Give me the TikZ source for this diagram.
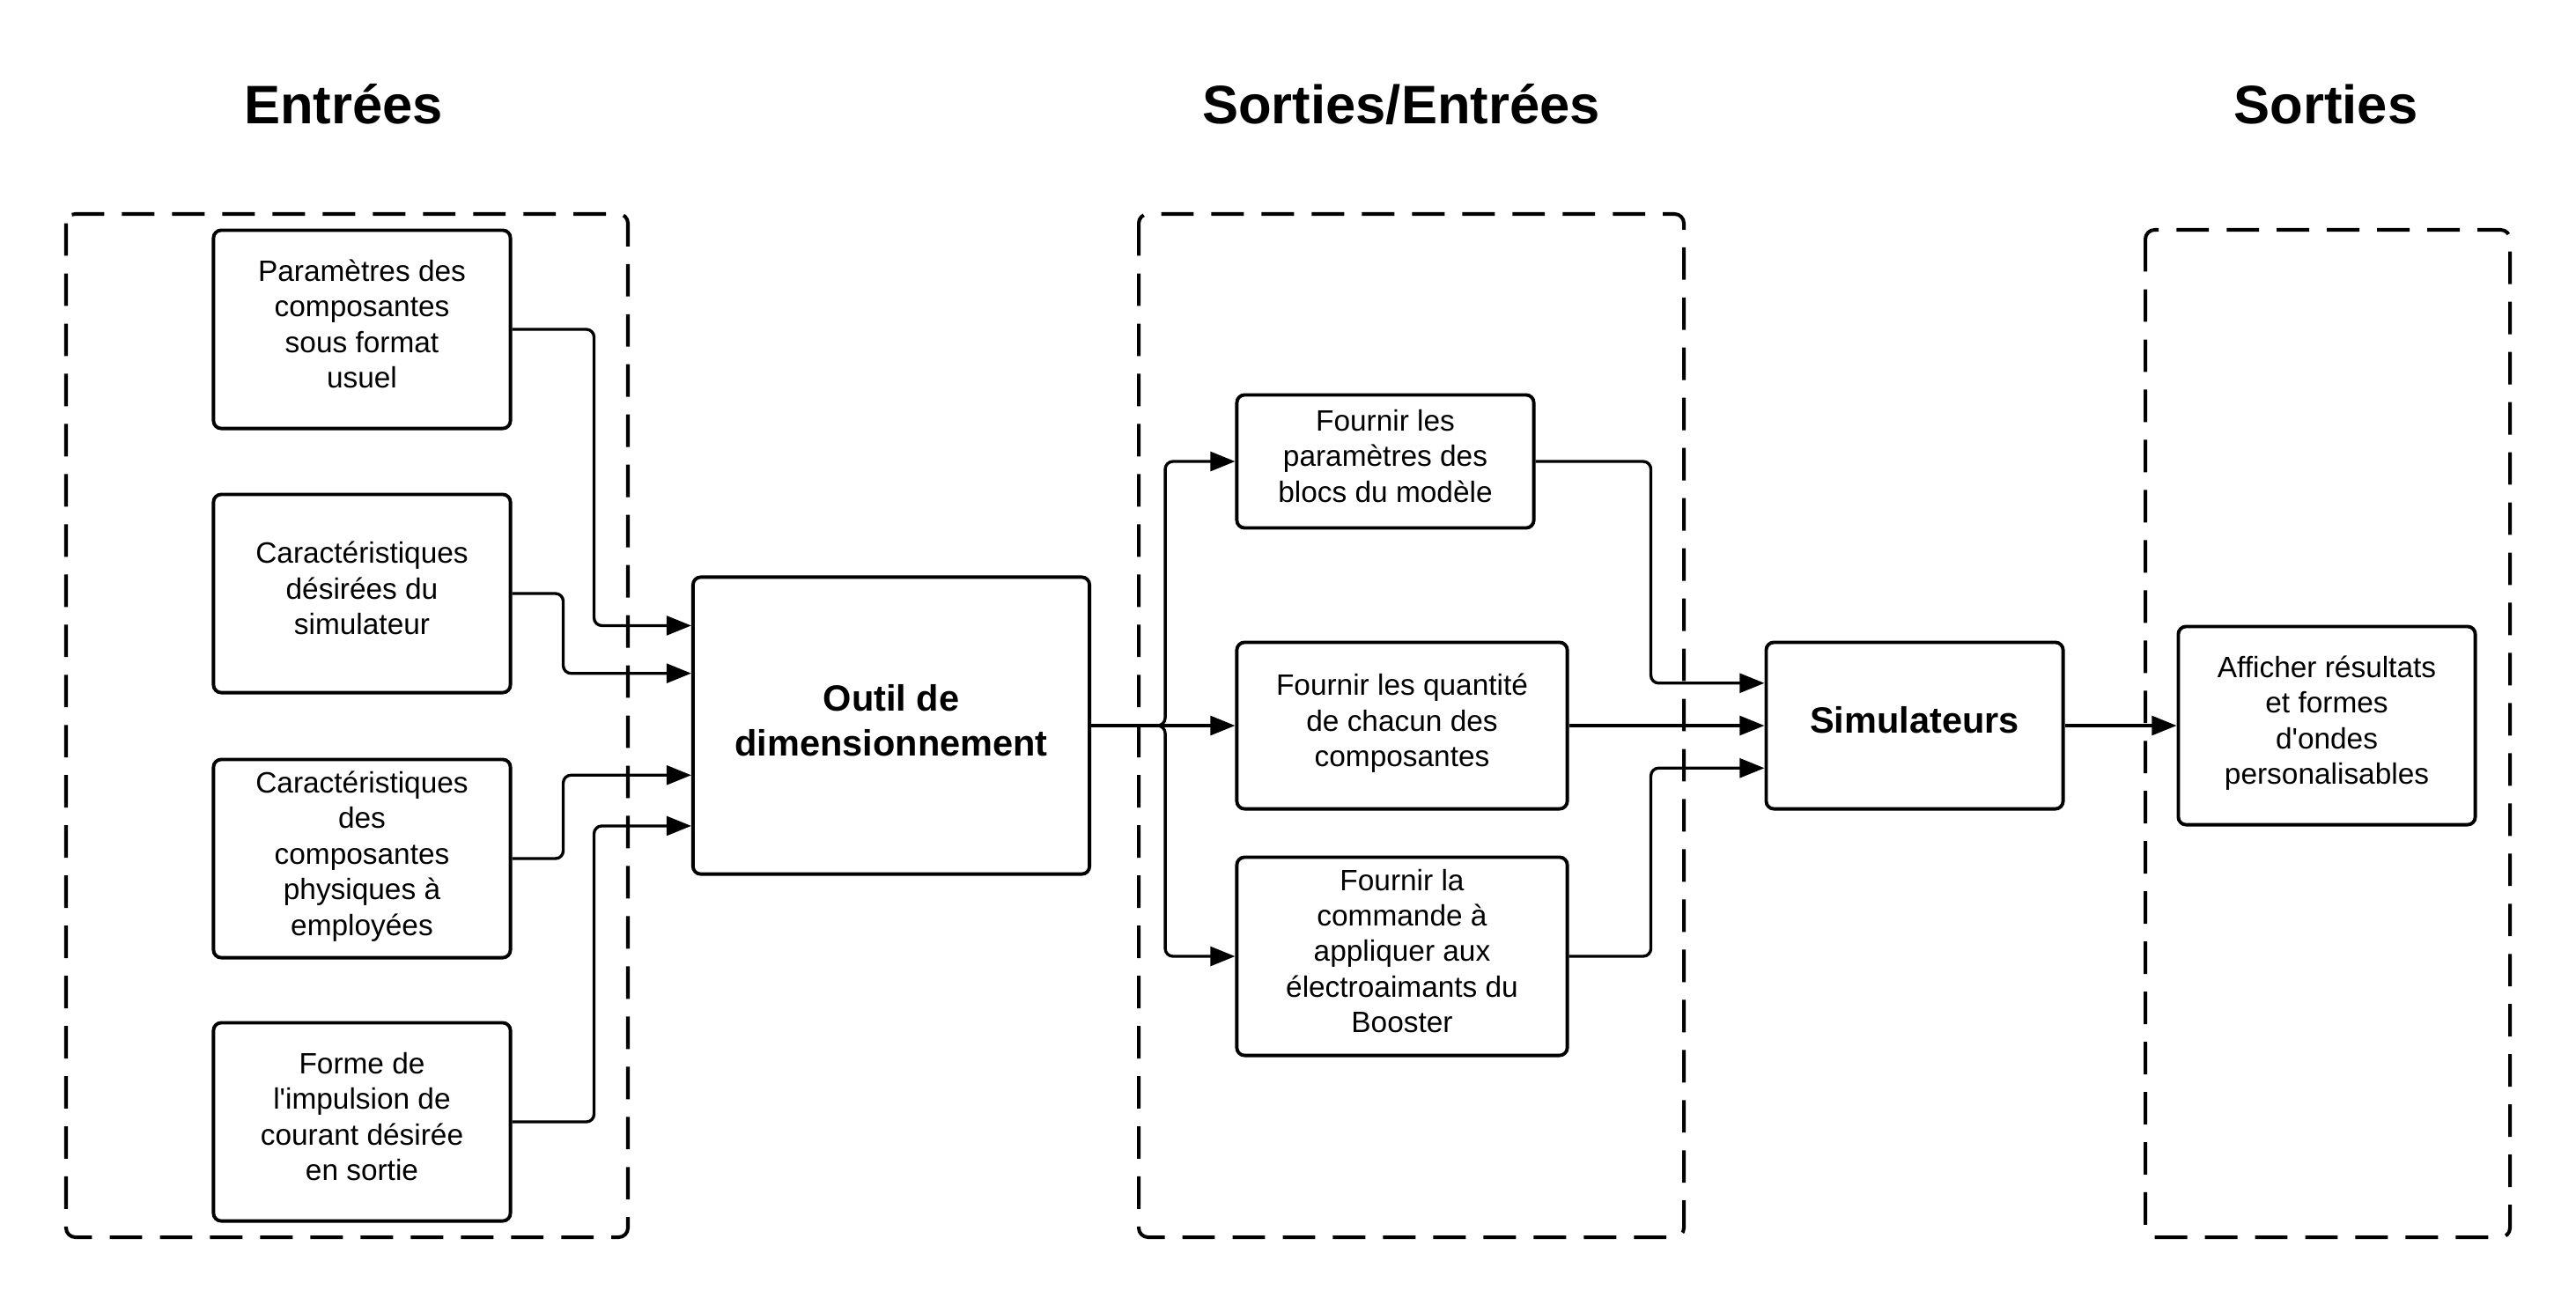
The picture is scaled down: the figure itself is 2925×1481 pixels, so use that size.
\documentclass[tikz,border=0pt]{standalone}
\usepackage{fontspec}
\setmainfont{Liberation Sans}
\usepackage{tikz}
\usetikzlibrary{arrows.meta, calc}
\tikzstyle{block}=[rectangle, draw, line width=1.1pt, rounded corners=2.5pt, align=center, inner sep=2pt, minimum width=3.37cm, minimum height=2.25cm, font=\fontsize{9.5}{11.5}\selectfont, execute at begin node={\rule{0pt}{7.3pt}}, execute at end node={\rule[-3.5pt]{0pt}{3.5pt}}]
\tikzstyle{mainblock}=[block, font=\fontsize{11.8}{14.3}\selectfont\bfseries]
\tikzstyle{heading}=[anchor=base, font=\fontsize{17.5}{21}\selectfont\bfseries]
\tikzstyle{group}=[draw, line width=1.15pt, dash pattern=on 10.5pt off 5.7pt, rounded corners=3pt]
\tikzstyle{link}=[draw, line width=0.95pt, rounded corners=2.5pt, -{Triangle[length=8pt, width=6.2pt]}]
\newcommand{\block}{\node[block]}
\newcommand{\mainblock}{\node[mainblock]}

\begin{document}
\begin{tikzpicture}[x=0.01cm, y=-0.01cm]
\useasboundingbox (0,0) rectangle (2925,1481);

\node[heading] (tin) at (390,140) {Entrées};
\node[heading] (tmid) at (1591,140) {Sorties/Entrées};
\node[heading] (tout) at (2641,140) {Sorties};

\draw[group] (75,243) rectangle (713,1405);
\draw[group] (1293,243) rectangle (1912,1405);
\draw[group] (2436,261) rectangle (2850,1405);

    \block (p1) at (411,374) {Paramètres des\\composantes\\sous format\\usuel};
    \block (p2) at (411,674) {Caractéristiques\\désirées du\\simulateur};
    \block (p3) at (411,975) {Caractéristiques\\des\\composantes\\physiques à\\employées};
    \block (p4) at (411,1274) {Forme de\\l\textquotesingle impulsion de\\courant désirée\\en sortie};

    \mainblock[minimum width=4.5cm, minimum height=3.37cm] (outil) at (1012,824) {Outil de\\dimensionnement};

    \block[minimum height=1.51cm] (f1) at (1573,524) {Fournir les\\paramètres des\\blocs du modèle};
    \block[minimum width=3.75cm, minimum height=1.89cm] (f2) at (1592,824) {Fournir les quantité\\de chacun des\\composantes};
    \block[minimum width=3.75cm] (f3) at (1592,1086) {Fournir la\\commande à\\appliquer aux\\électroaimants du\\Booster};

    \mainblock[minimum height=1.89cm] (sim) at (2174,824) {Simulateurs};
    \block (aff) at (2642,824) {Afficher résultats\\et formes\\d\textquotesingle ondes\\personalisables};

\coordinate (o1) at ($(outil.north west)!0.167!(outil.south west)$);
\coordinate (o2) at ($(outil.north west)!0.326!(outil.south west)$);
\coordinate (o3) at ($(outil.north west)!0.665!(outil.south west)$);
\coordinate (o4) at ($(outil.north west)!0.834!(outil.south west)$);
\coordinate (split) at ($(outil.east)+(84,0)$);
\coordinate (s1) at ($(sim.north west)!0.25!(sim.south west)$);
\coordinate (s3) at ($(sim.north west)!0.75!(sim.south west)$);

    \draw[link] (p1.east) -- ++(93,0) |- (o1);
    \draw[link] (p2.east) -- ++(58,0) |- (o2);
    \draw[link] (p3.east) -- ++(58,0) |- (o3);
    \draw[link] (p4.east) -- ++(93,0) |- (o4);

    \draw[link] (outil.east) -- (split) |- (f1.west);
    \draw[link] (outil.east) -- (f2.west);
    \draw[link] (outil.east) -- (split) |- (f3.west);

    \draw[link] (f1.east) -- ++(131,0) |- (s1);
    \draw[link] (f2.east) -- (sim.west);
    \draw[link] (f3.east) -- ++(93,0) |- (s3);
    \draw[link] (sim.east) -- (aff.west);
\end{tikzpicture}
\end{document}
